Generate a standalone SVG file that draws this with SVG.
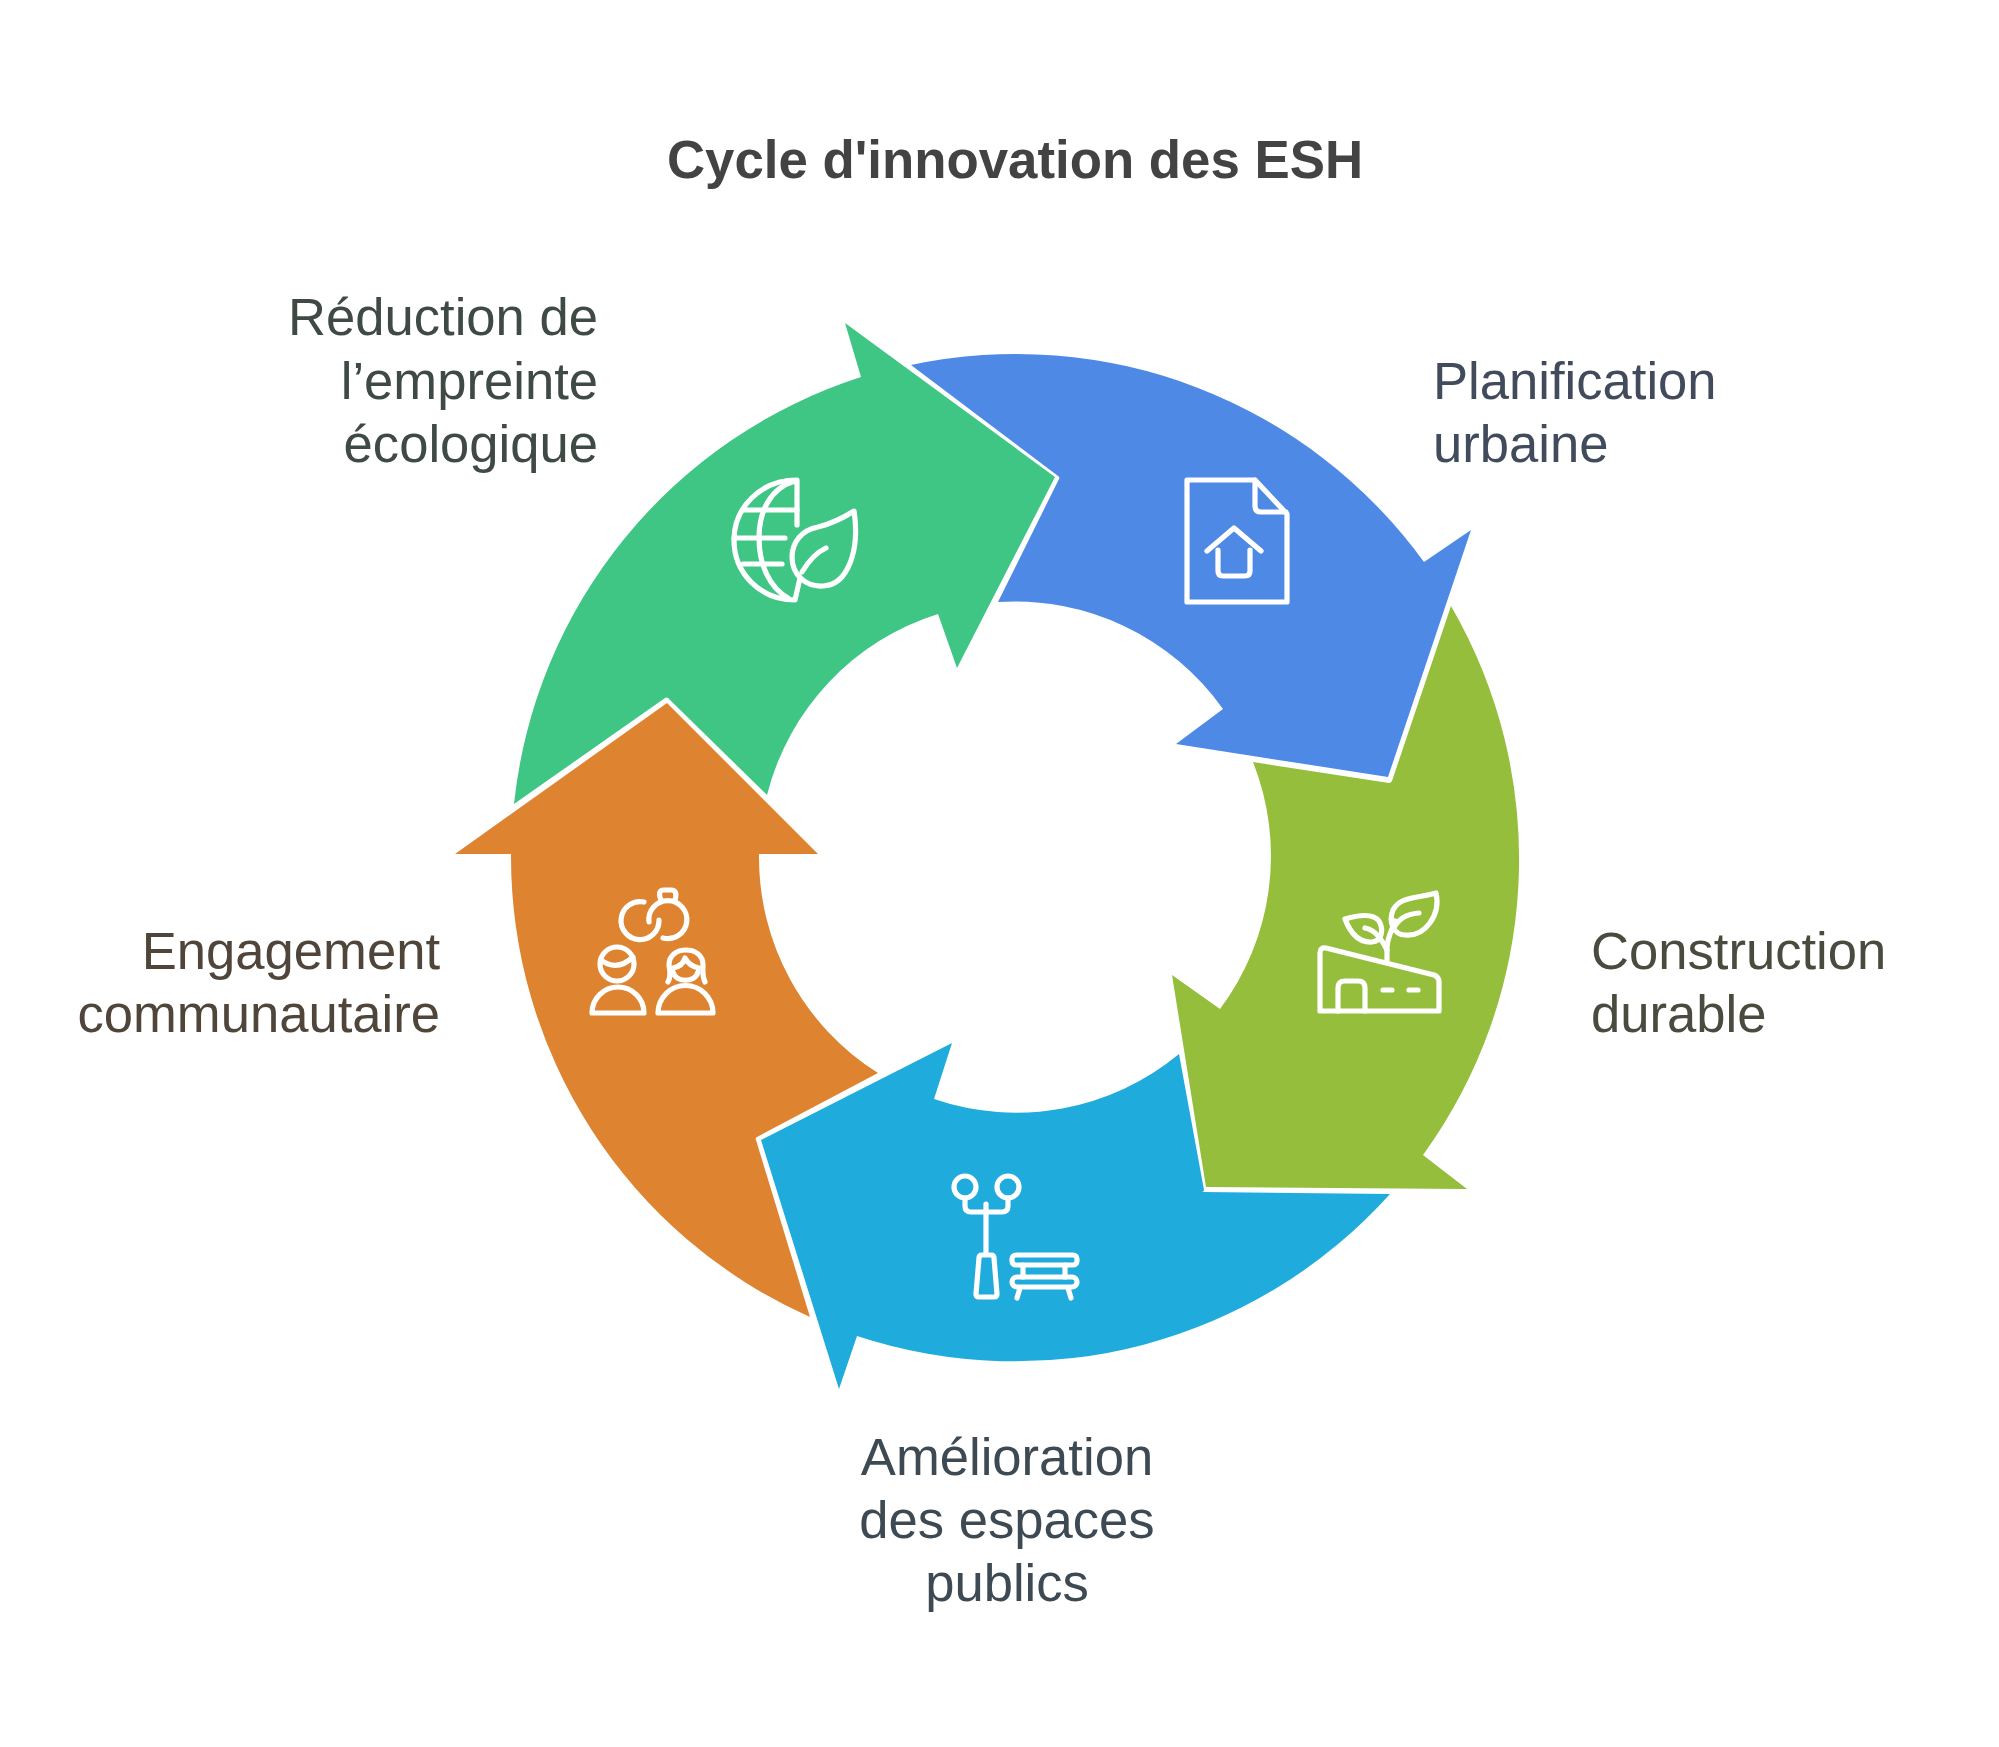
<svg xmlns="http://www.w3.org/2000/svg" width="1999" height="1747" viewBox="0 0 1999 1747">
<style>
.t{font-family:"Liberation Sans",Arial,sans-serif;font-size:52.6px}
.title{font-family:"Liberation Sans",Arial,sans-serif;font-size:52.8px;font-weight:700;fill:#434343;text-anchor:middle}
.ic{fill:none;stroke:#fff;stroke-width:5.2;stroke-linecap:round;stroke-linejoin:round}
</style>
<rect width="1999" height="1747" fill="#fff"/>
<text class="title" x="1015" y="178">Cycle d'innovation des ESH</text>
<g id="connectors"/>
<g id="node-planification">
<path fill="#4E89E6" d="M911,365 A504,504 0 0 1 1424,562 L1471,530 L1388,777 L1176,744 L1223,709 A255,255 0 0 0 998,602 L1059,479 Q1060,477 1058,476 Z"/>
<g class="ic">
<path d="M1187,480 H1255 L1287,514 V602 H1187 Z"/>
<path d="M1255,480 V506 Q1255,512 1261,512 H1286"/>
<path d="M1207,551 L1234,528 L1261,551"/>
<path d="M1218,550 V571 Q1218,576 1223,576 H1245 Q1250,576 1250,571 V550"/>
</g>
<text class="t" fill="#414B5C" x="1433" y="399">Planification</text>
<text class="t" fill="#414B5C" x="1433" y="462">urbaine</text>
</g>
<g id="node-construction">
<path fill="#94BE3B" d="M1451,606 A504,504 0 0 1 1423,1155 L1467,1189 L1206,1187 L1172,975 L1220,1009 A255,255 0 0 0 1253,762 L1389,783 Q1391,783 1392,781 Z"/>
<g class="ic">
<path d="M1320,1011 V953 Q1320,947 1326,948 L1434,975 Q1439,977 1439,982 V1011 Z"/>
<path d="M1338,1011 V988 Q1338,981 1345,981 H1358 Q1365,981 1365,988 V1011"/>
<path d="M1383,990 H1392 M1409,990 H1418"/>
<path d="M1387,960 V948 C1387,938 1392,930 1395,921"/>
<path d="M1436,893 C1420,898 1400,896 1393,910 C1388,922 1394,935 1405,935 C1425,937 1441,915 1436,893 Z"/>
<path d="M1419,913 C1405,914 1397,920 1393,930"/>
<path d="M1345,919 C1355,916 1372,912 1379,921 C1384,930 1382,941 1372,942 C1358,943 1350,932 1345,919 Z"/>
<path d="M1365,928 C1375,930 1381,938 1387,950"/>
</g>
<text class="t" fill="#4A4A3E" x="1591" y="969">Construction</text>
<text class="t" fill="#4A4A3E" x="1591" y="1032">durable</text>
</g>
<g id="node-espaces">
<path fill="#1FABDC" d="M1390,1194 A504,504 0 0 1 857,1336 L839,1389 L761,1140 L952,1043 L934,1099 A255,255 0 0 0 1179,1054 L1204,1190 Q1204,1192 1202,1192 Z"/>
<g class="ic">
<circle cx="965" cy="1187" r="11"/>
<circle cx="1008" cy="1187" r="11"/>
<path d="M965,1198 V1206 Q965,1212 971,1212 H1002 Q1008,1212 1008,1206 V1198"/>
<path d="M986,1204 V1254"/>
<path d="M982,1255 H991 Q994,1255 994,1258 L997,1294 Q997,1297 994,1297 H979 Q976,1297 976,1294 L979,1258 Q979,1255 982,1255 Z"/>
<rect x="1012" y="1255" width="65" height="10" rx="4"/>
<rect x="1012" y="1277" width="65" height="10" rx="5"/>
<path d="M1023,1265 V1277 M1065,1265 V1277 M1020,1288 L1017,1298 M1068,1288 L1071,1298"/>
</g>
<text class="t" fill="#3D4A54" text-anchor="middle" x="1007" y="1475">Amélioration</text>
<text class="t" fill="#3D4A54" text-anchor="middle" x="1007" y="1538">des espaces</text>
<text class="t" fill="#3D4A54" text-anchor="middle" x="1007" y="1601">publics</text>
</g>
<g id="node-engagement">
<path fill="#DE8431" d="M810,1317 A504,504 0 0 1 511,854 L455,854 L667,703 L818,854 L759,854 A255,255 0 0 0 878,1073 L757,1137 Q755,1138 756,1140 Z"/>
<g class="ic">
<path d="M644,902 A19,19 0 1 0 659,920"/>
<path d="M649,922 A19,19 0 1 1 663,938"/>
<path d="M661,900 Q657,890 664,890 H671 Q678,890 675,900"/>
<circle cx="617" cy="964" r="17"/>
<path d="M601,960 Q617,972 633,957"/>
<path d="M592,1013 A26,26 0 0 1 644,1013 Z"/>
<path d="M668,982 C672,975 669,968 669,965 C669,955 677,950 686,950 C695,950 703,955 703,965 C703,970 702,976 705,982"/>
<path d="M673,972 C676,983 695,983 698,972"/>
<path d="M673,968 Q683,966 685,958 Q689,966 699,968"/>
<path d="M658,1013 A27,27 0 0 1 713,1013 Z"/>
</g>
<text class="t" fill="#50453A" text-anchor="end" x="440" y="969">Engagement</text>
<text class="t" fill="#50453A" text-anchor="end" x="440" y="1032">communautaire</text>
</g>
<g id="node-reduction">
<path fill="#3FC685" d="M514,804 A504,504 0 0 1 861,377 L845,323 L1055,477 L957,668 L938,614 A255,255 0 0 0 767,795 L668,698 Q667,697 665,698 Z"/>
<g class="ic">
<path d="M797,525 V480 C760,480 734,508 734,540 C734,573 760,600 795,600 L800,578"/>
<path d="M795,481 C770,488 759,512 759,538 C759,565 770,588 788,598"/>
<path d="M745,510 H797 M734,538 H785 M743,564 H782"/>
<path d="M854,511 C843,518 830,524 818,527 C802,530 792,542 792,557 C792,575 806,587 823,586 C848,585 860,550 854,511 Z"/>
<path d="M826,548 C815,553 808,562 802,572"/>
</g>
<text class="t" fill="#3F4A45" text-anchor="end" x="598" y="335">Réduction de</text>
<text class="t" fill="#3F4A45" text-anchor="end" x="598" y="399">l’empreinte</text>
<text class="t" fill="#3F4A45" text-anchor="end" x="598" y="462">écologique</text>
</g>
</svg>
